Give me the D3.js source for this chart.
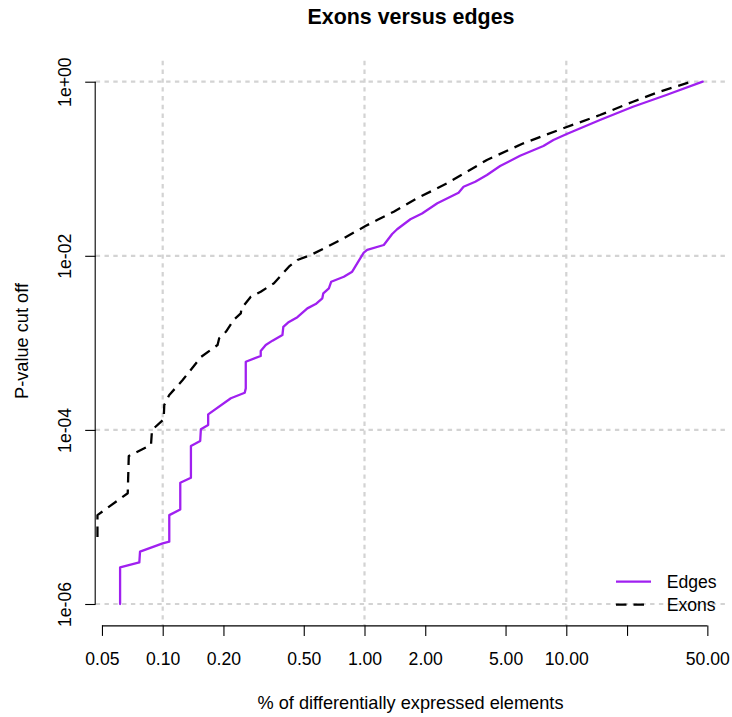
<!DOCTYPE html>
<html lang="en">
	<head>
		<meta charset="utf-8">
		<title>Exons versus edges</title>
		<script src="https://d3js.org/d3.v7.min.js"></script>
		<style type="text/css">
			body { margin: 0; background: #fff; }
			text { font-family: "Liberation Sans", Arial, Helvetica, sans-serif; fill: #000; }
		</style>
	</head>
	<body>
		<script type="text/javascript">
			// values (% of elements, p-value cut off)
			var edgesPct = [0.0615, 0.0615, 0.0766, 0.0772, 0.100, 0.1078, 0.1078, 0.1222, 0.1222, 0.138, 0.138,
				0.1534, 0.1546, 0.168, 0.168, 0.2176, 0.255, 0.258, 0.258, 0.306, 0.306, 0.324, 0.350, 0.392,
				0.396, 0.418, 0.465, 0.521, 0.573, 0.618, 0.625, 0.666, 0.684, 0.790, 0.869, 0.920, 0.992, 1.031,
				1.246, 1.371, 1.451, 1.688, 1.928, 2.296, 2.925, 3.096, 3.538, 4.043, 4.70, 5.90, 7.70, 8.63,
				10.05, 14.68, 21.4, 31.3, 47.4];
			var edgesP = [1e-6, 2.64e-6, 3.01e-6, 3.99e-6, 4.98e-6, 5.2e-6, 1.05e-5, 1.22e-5, 2.47e-5, 2.82e-5, 6.53e-5,
				7.45e-5, 1.02e-4, 1.14e-4, 1.51e-4, 2.31e-4, 2.67e-4, 3.0e-4, 6.07e-4, 7.06e-4, 8.05e-4, 9.44e-4,
				1.06e-3, 1.23e-3, 1.53e-3, 1.71e-3, 1.97e-3, 2.49e-3, 2.79e-3, 3.25e-3, 3.71e-3, 4.23e-3, 5.04e-3,
				5.75e-3, 6.57e-3, 8.2e-3, 1.09e-2, 1.17e-2, 1.33e-2, 1.78e-2, 2.02e-2, 2.63e-2, 3.06e-2, 4.01e-2,
				5.31e-2, 6.22e-2, 7.1e-2, 8.48e-2, 0.1076, 0.141, 0.1825, 0.214, 0.2506, 0.363, 0.516, 0.703, 1];

			var exonsPct = [0.0475, 0.0475, 0.0671, 0.0679, 0.0875, 0.0885, 0.1011, 0.1018, 0.1078, 0.1256, 0.1547,
				0.187, 0.1905, 0.2056, 0.226, 0.2438, 0.2457, 0.2733, 0.306, 0.356, 0.422, 0.465, 0.541, 0.654,
				0.790, 1.011, 1.155, 1.396, 1.822, 2.564, 4.04, 6.13, 9.67, 14.68, 21.4, 29.0, 41.7];
			var exonsP = [5.89e-6, 1.05e-5, 1.87e-5, 5.01e-5, 6.71e-5, 9.97e-5, 1.32e-4, 1.93e-4, 2.52e-4, 3.74e-4,
				6.87e-4, 9.44e-4, 1.13e-3, 1.34e-3, 1.86e-3, 2.18e-3, 2.49e-3, 3.39e-3, 3.87e-3, 4.83e-3, 7.5e-3,
				8.95e-3, 1.02e-2, 1.27e-2, 1.59e-2, 2.2e-2, 2.58e-2, 3.21e-2, 4.58e-2, 6.8e-2, 0.126, 0.196,
				0.292, 0.414, 0.589, 0.768, 1];

			var xTicks = [0.05, 0.1, 0.2, 0.5, 1, 2, 5, 10, 20, 50];
			var xTickLabels = ["0.05", "0.10", "0.20", "0.50", "1.00", "2.00", "5.00", "10.00", "", "50.00"];
			var yTicks = [1, 1e-2, 1e-4, 1e-6];
			var yTickLabels = ["1e+00", "1e-02", "1e-04", "1e-06"];
			var xGrid = [0.1, 1, 10];
			var yGrid = [1, 1e-2, 1e-4, 1e-6];

			var seriesNames = ["Edges", "Exons"];
			var seriesColors = ["#A020F0", "#000000"];

			var w = 732, h = 717;
			var plot = {left: 95.7, right: 726, top: 60.8, bottom: 625.4};
			var fs = 17.6;

			var x = d3.scaleLog().domain([0.1, 10]).range([162.7, 566.3]);
			var y = d3.scaleLog().domain([1e-6, 1]).range([604, 81.7]);

			var svg = d3.select("body").append("svg")
				.attr("width", w)
				.attr("height", h);

			svg.append("defs").append("clipPath")
				.attr("id", "plotclip")
				.append("rect")
				.attr("x", plot.left)
				.attr("y", plot.top)
				.attr("width", plot.right - plot.left)
				.attr("height", plot.bottom - plot.top);

			// grid
			svg.append("g").selectAll("line.vg")
				.data(xGrid)
				.enter()
				.append("line")
				.attr("x1", function(d){ return x(d); })
				.attr("x2", function(d){ return x(d); })
				.attr("y1", plot.top)
				.attr("y2", plot.bottom)
				.attr("stroke", "#D3D3D3")
				.attr("stroke-width", 2.2)
				.attr("stroke-dasharray", "4.4,4.4");

			svg.append("g").selectAll("line.hg")
				.data(yGrid)
				.enter()
				.append("line")
				.attr("x1", plot.left)
				.attr("x2", plot.right)
				.attr("y1", function(d){ return y(d); })
				.attr("y2", function(d){ return y(d); })
				.attr("stroke", "#D3D3D3")
				.attr("stroke-width", 2.2)
				.attr("stroke-dasharray", "4.4,4.4");

			// curves
			var line = d3.line()
				.x(function(d){ return x(d[0]); })
				.y(function(d){ return y(d[1]); });

			var curves = [d3.zip(edgesPct, edgesP), d3.zip(exonsPct, exonsP)];

			svg.append("g")
				.attr("clip-path", "url(#plotclip)")
				.selectAll("path")
				.data(curves)
				.enter()
				.append("path")
				.attr("d", line)
				.attr("fill", "none")
				.attr("stroke", function(d, i){ return seriesColors[i]; })
				.attr("stroke-width", 2.3)
				.attr("stroke-linecap", function(d, i){ return i == 1 ? "butt" : "round"; })
				.attr("stroke-linejoin", "round")
				.attr("stroke-dasharray", function(d, i){ return i == 1 ? "10.5,7" : null; });

			// x axis
			var xAxis = svg.append("g")
				.attr("transform", "translate(0," + plot.bottom + ")")
				.call(d3.axisBottom(x)
					.tickValues(xTicks)
					.tickSize(10.5)
					.tickPadding(0)
					.tickFormat(function(d, i){ return xTickLabels[i]; }));
			xAxis.select(".domain")
				.attr("d", "M" + x(xTicks[0]) + ",0.5H" + x(xTicks[xTicks.length - 1]));
			xAxis.selectAll("line, path").attr("stroke", "#000").attr("stroke-width", 1.1);
			xAxis.selectAll("text")
				.attr("y", 0)
				.attr("dy", 0)
				.attr("transform", "translate(0,40)")
				.style("font-size", fs + "px")
				.style("font-family", '"Liberation Sans", Arial, sans-serif');

			// y axis
			var yAxis = svg.append("g")
				.attr("transform", "translate(" + plot.left + ",0)")
				.call(d3.axisLeft(y)
					.tickValues(yTicks)
					.tickSize(10.5)
					.tickFormat(function(d, i){ return yTickLabels[i]; }));
			yAxis.select(".domain")
				.attr("d", "M-0.5," + y(yTicks[0]) + "V" + y(yTicks[yTicks.length - 1]));
			yAxis.selectAll("line, path").attr("stroke", "#000").attr("stroke-width", 1.1);
			yAxis.selectAll("text")
				.attr("x", 0)
				.attr("dy", 0)
				.attr("text-anchor", "middle")
				.attr("transform", "translate(-25,0) rotate(-90)")
				.style("font-size", fs + "px")
				.style("font-family", '"Liberation Sans", Arial, sans-serif');

			// labels
			svg.append("text")
				.attr("x", 411)
				.attr("y", 23.5)
				.attr("text-anchor", "middle")
				.style("font-size", "21.4px")
				.style("font-weight", "bold")
				.text("Exons versus edges");

			svg.append("text")
				.attr("x", 410.5)
				.attr("y", 709)
				.attr("text-anchor", "middle")
				.style("font-size", "18.2px")
				.text("% of differentially expressed elements");

			svg.append("text")
				.attr("transform", "translate(28.3,341) rotate(-90)")
				.attr("text-anchor", "middle")
				.style("font-size", "18.2px")
				.text("P-value cut off");

			// legend
			var legend = svg.append("g").selectAll("g")
				.data(seriesNames)
				.enter()
				.append("g")
				.attr("transform", function(d, i){ return "translate(616," + (581.7 + i * 23) + ")"; });

			legend.append("line")
				.attr("x1", 0)
				.attr("x2", 35)
				.attr("stroke", function(d, i){ return seriesColors[i]; })
				.attr("stroke-width", 2.3)
				.attr("stroke-dasharray", function(d, i){ return i == 1 ? "10.5,7" : null; });

			legend.append("text")
				.attr("x", 50.7)
				.attr("dy", "0.35em")
				.style("font-size", fs + "px")
				.text(function(d){ return d; });
		</script>
	</body>
</html>
